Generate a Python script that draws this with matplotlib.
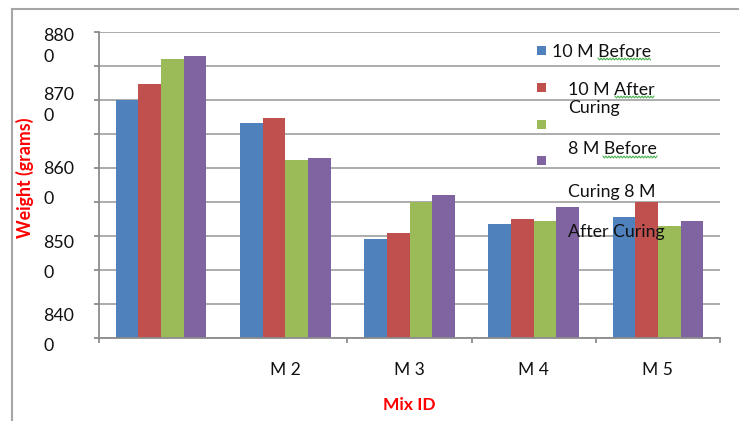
import numpy as np
import matplotlib
matplotlib.use("Agg")
import matplotlib.pyplot as plt
from matplotlib import transforms
from matplotlib.lines import Line2D
from matplotlib.patches import Rectangle

plt.rcParams["font.family"] = ["Lato", "DejaVu Sans"]

W, H = 739, 421

# ---- data -------------------------------------------------------------
group_labels = ["", "M 2", "M 3", "M 4", "M 5"]
series_names = ["10 M Before Curing", "10 M After Curing",
                "8 M Before Curing", "8 M After Curing"]
before_10m = [8700, 8666, 8496, 8517, 8528]
after_10m = [8724, 8674, 8505, 8525, 8550]
before_8m = [8760, 8612, 8550, 8522, 8515]
after_8m = [8764, 8615, 8561, 8543, 8522]
ytick_values = [8800, 8700, 8600, 8500, 8400]
ytick_text = ["880\n0", "870\n0", "860\n0", "850\n0", "840\n0"]
legend_lines = ["10 M Before", "10 M After", "Curing", "8 M Before",
                "Curing 8 M", "After Curing"]

series = [before_10m, after_10m, before_8m, after_8m]
colors = ["#4F81BD", "#C0504D", "#9BBB59", "#8064A2"]


def fpx(x, y):
    """pixel position (from top-left) -> figure fraction"""
    return x / W, 1 - y / H


fig = plt.figure(figsize=(W / 100, H / 100), dpi=100)
fig.patch.set_facecolor("white")
ax = fig.add_axes([99 / W, 1 - 338 / H, (720 - 99) / W, (338 - 32) / H])

# ---- bars -------------------------------------------------------------
x = np.arange(len(group_labels))
bw = 0.182
for i, (vals, c) in enumerate(zip(series, colors)):
    ax.bar(x + (i - 1.5) * bw, vals, bw, color=c, linewidth=0,
           label=series_names[i], zorder=2)

ax.set_xlim(-0.5, len(group_labels) - 0.5)
ax.set_ylim(8350, 8800)

# ---- axes styling -----------------------------------------------------
axis_col = "#8C8C8C"
grid_col = "#A6A6A6"
for s in ["top", "right"]:
    ax.spines[s].set_visible(False)
for s in ["left", "bottom"]:
    ax.spines[s].set_color(axis_col)
    ax.spines[s].set_linewidth(1.3)

ax.set_yticks(np.arange(8350, 8801, 50))
ax.yaxis.grid(True, color=grid_col, linewidth=1.3, zorder=0)
ax.set_axisbelow(True)
ax.tick_params(axis="y", which="major", length=3.6, width=1.3,
               color=axis_col, labelleft=False, direction="out")

ax.set_xticks(x, labels=group_labels)
ax.tick_params(axis="x", which="major", length=0, pad=17, labelsize=12.5,
               labelcolor="#111111")
ax.set_xticks([-0.5, 1.5, 2.5, 3.5, 4.5], minor=True)
ax.tick_params(axis="x", which="minor", length=3.6, width=1.3,
               color=axis_col, direction="out")

# wrapped y-axis value labels
ylab_shift = [4, 13, 7, 1, -4]
ylab_spacing = [1.42, 1.42, 2.1, 2.1, 2.1]
base = transforms.blended_transform_factory(fig.transFigure, ax.transData)
for val, txt, dy, ls in zip(ytick_values, ytick_text, ylab_shift, ylab_spacing):
    tr = base + transforms.ScaledTranslation(0, dy / fig.dpi, fig.dpi_scale_trans)
    ax.text(43 / W, val, txt, transform=tr, ha="left", va="top",
            fontsize=12.8, color="#111111", linespacing=ls, clip_on=False)

# ---- axis titles ------------------------------------------------------
fig.text(*fpx(25, 178), "Weight (grams)", rotation=90, ha="center",
         va="center", color="#FF0000", fontsize=12.8, fontweight="bold")
fig.text(*fpx(409, 397), "Mix ID", ha="center", va="top", color="#FF0000",
         fontsize=12.5, fontweight="bold")

# ---- legend ----------------------------------------------------------
sq = 9
for c, cy in zip(colors, [50, 87.5, 124, 160.5]):
    fx, fy = fpx(537, cy + sq / 2)
    fig.add_artist(Rectangle((fx, fy), sq / W, sq / H, transform=fig.transFigure,
                             facecolor=c, edgecolor="none", zorder=5))

legend_pos = [(552, 52), (568, 90), (568, 108), (568, 149), (568, 192), (568, 232)]
for txt, (lx, ly) in zip(legend_lines, legend_pos):
    fig.text(*fpx(lx, ly), txt, ha="left", va="center", fontsize=12.8,
             color="#111111", zorder=6)

# spell-check squiggles under some legend words
for x0, x1, yy in [(598, 651, 59), (615, 655, 97), (603, 657, 157)]:
    xs = np.arange(x0, x1 + 0.1, 1.5)
    ys = yy + np.where(np.arange(len(xs)) % 2 == 0, -0.9, 0.9)
    fig.add_artist(Line2D(xs / W, 1 - ys / H, transform=fig.transFigure,
                          color="#4CAF50", linewidth=0.8, zorder=6))

# ---- chart border (left and top edges) ------------------------------
fig.add_artist(Line2D([12 / W, 12 / W], [0, 1 - 9 / H], transform=fig.transFigure,
                      color="#A6A6A6", linewidth=1.5))
fig.add_artist(Line2D([12 / W, 1], [1 - 9 / H, 1 - 9 / H], transform=fig.transFigure,
                      color="#A6A6A6", linewidth=1.5))

fig.savefig("out.png", dpi=100)
